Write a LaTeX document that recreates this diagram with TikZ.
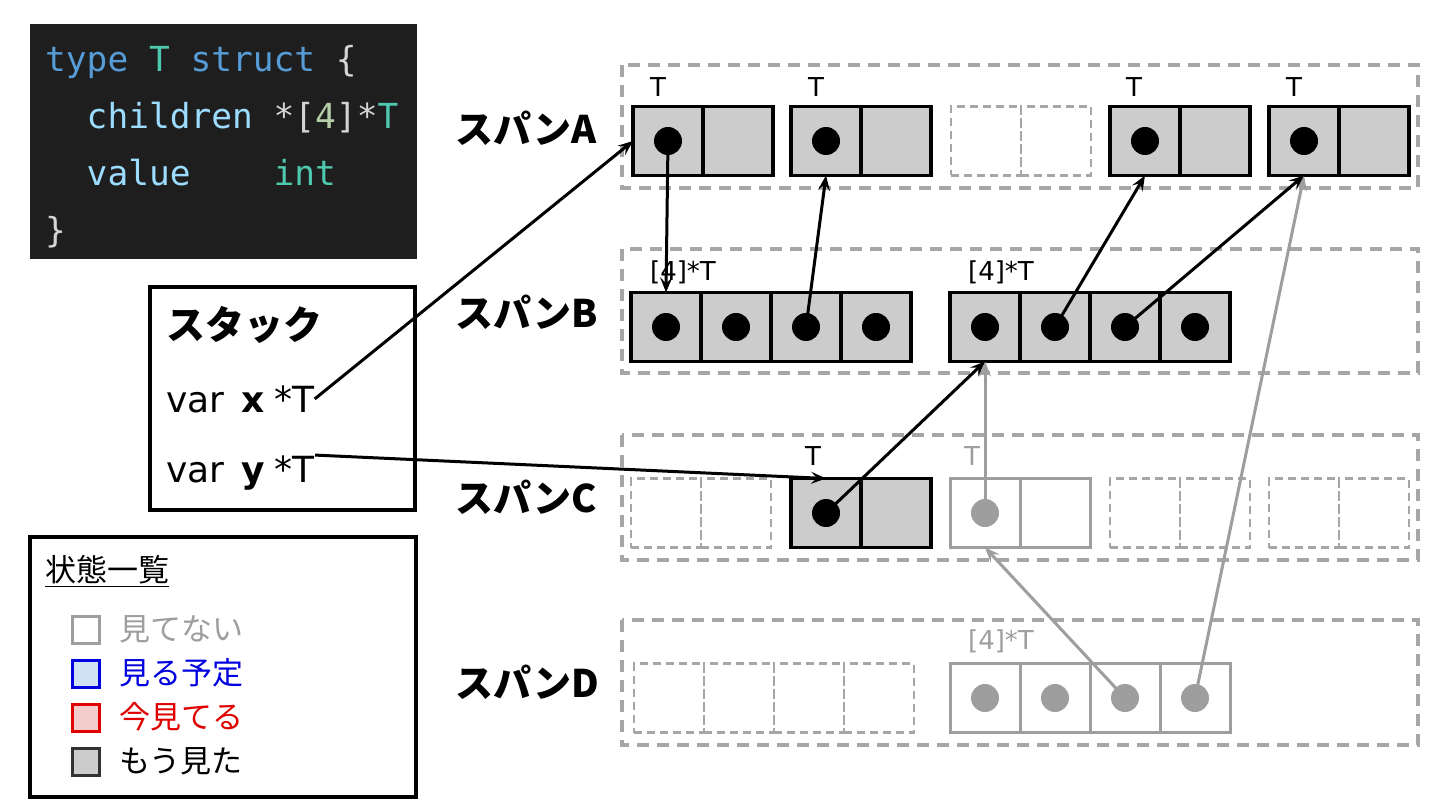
\documentclass[tikz,border=0pt]{standalone}
\usepackage{fontspec}
\setmainfont{DejaVu Sans}
\newfontfamily\jp{Noto Sans CJK JP}
\newfontfamily\mono{DejaVu Sans Mono}
\usetikzlibrary{arrows.meta}
\definecolor{codebg}{HTML}{1E1E1E}
\definecolor{ckw}{HTML}{569CD6}
\definecolor{cty}{HTML}{4EC9B0}
\definecolor{cid}{HTML}{9CDCFE}
\definecolor{cpl}{HTML}{D4D4D4}
\definecolor{cnum}{HTML}{B5CEA8}
\definecolor{cellgray}{HTML}{CCCCCC}
\definecolor{spangray}{HTML}{A6A6A6}
\definecolor{midgray}{HTML}{9E9E9E}
\definecolor{lgblue}{HTML}{CFE2F3}
\definecolor{lgpink}{HTML}{F4CCCC}
\definecolor{tblue}{HTML}{0000E0}
\definecolor{tred}{HTML}{E00000}
\begin{document}
\begin{tikzpicture}[x=1pt,y=-1pt,
  cell/.style={minimum width=70pt,minimum height=69pt,inner sep=0pt,outer sep=0pt},
  cellfull/.style={cell,draw=black,line width=3.2pt,fill=cellgray},
  cellgr/.style={cell,draw=midgray,line width=3pt,fill=white},
  cellnone/.style={cell,draw=spangray,line width=2.8pt,dash pattern=on 8pt off 5pt},
  spanbox/.style={draw=spangray,line width=3.8pt,dash pattern=on 12pt off 8pt},
  dotb/.style={circle,fill=black,minimum size=28pt,inner sep=0pt},
  dotg/.style={circle,fill=midgray,minimum size=28pt,inner sep=0pt},
  ptr/.style={-{Stealth[length=15pt,width=12pt,inset=6pt]},line width=3pt,draw=black},
  ptrg/.style={ptr,draw=midgray},
  spanlbl/.style={font=\jp\bfseries\fontsize{38}{40}\selectfont,anchor=west,inner sep=0pt},
  tlbl/.style={font=\fontsize{26}{28}\selectfont,inner sep=0pt},
  codeln/.style={font=\mono\fontsize{34.5}{36}\selectfont,anchor=base west,inner sep=0pt},
  stk/.style={font=\fontsize{36}{38}\selectfont,anchor=base west,inner sep=0pt},
  lgsq/.style={minimum size=27pt,inner sep=0pt,line width=2.4pt},
  lgtx/.style={font=\jp\fontsize{31}{33}\selectfont,anchor=west,inner sep=0pt}
]
\useasboundingbox (0,0) rectangle (1440,810);
\fill[white] (0,0) rectangle (1440,810);

% code block
\fill[codebg] (30,24) rectangle (417,259);
\node[codeln] (c1) at (45,72) {\textcolor{ckw}{type} \textcolor{cty}{T} \textcolor{ckw}{struct} \textcolor{cpl}{\{}};
\node[codeln] (c2) at (45,129) {\ \ \textcolor{cid}{children} \textcolor{cpl}{*[}\textcolor{cnum}{4}\textcolor{cpl}{]*}\textcolor{cty}{T}};
\node[codeln] (c3) at (45,186) {\ \ \textcolor{cid}{value}\ \ \ \ \textcolor{cty}{int}};
\node[codeln] (c4) at (45,243) {\textcolor{cpl}{\}}};

% stack
\draw[line width=3.2pt] (150,287) rectangle (415,510);
\node[font=\jp\bfseries\fontsize{39}{41}\selectfont,anchor=west,inner sep=0pt] (stk) at (166,325) {スタック};
\node[stk] (vx) at (166,412) {var\hspace{17pt}\textbf{x}\hspace{10pt}*T};
\node[stk] (vy) at (166,482) {var\hspace{17pt}\textbf{y}\hspace{10pt}*T};

% legend
\draw[line width=3.2pt] (30,537) rectangle (416,797);
\node[font=\jp\fontsize{31}{33}\selectfont,anchor=west,inner sep=0pt] (lgt) at (45,571) {\underline{状態一覧}};
\node[lgsq,draw=midgray,fill=white] (q1) at (86,630) {};
\node[lgtx,text=midgray] (t1) at (119,629) {見てない};
\node[lgsq,draw=tblue,fill=lgblue] (q2) at (86,674) {};
\node[lgtx,text=tblue] (t2) at (119,673) {見る予定};
\node[lgsq,draw=tred,fill=lgpink] (q3) at (86,718) {};
\node[lgtx,text=tred] (t3) at (119,717) {今見てる};
\node[lgsq,draw=black!80,fill=cellgray] (q4) at (86,762) {};
\node[lgtx,text=black] (t4) at (119,761) {もう見た};

% span labels
\node[spanlbl] (LA) at (455,128) {スパンA};
\node[spanlbl] (LB) at (455,312) {スパンB};
\node[spanlbl] (LC) at (455,497) {スパンC};
\node[spanlbl] (LD) at (455,682) {スパンD};

% span outer boxes
\draw[spanbox] (622,65) rectangle (1418,188);
\draw[spanbox] (622,249) rectangle (1418,373);
\draw[spanbox] (622,435) rectangle (1418,560);
\draw[spanbox] (622,620) rectangle (1418,745);

% span A
\node[cellfull] (A1a) at (668,141) {};
\node[cellfull] (A1b) at (738,141) {};
\node[cellfull] (A2a) at (826,141) {};
\node[cellfull] (A2b) at (896,141) {};
\node[cellnone] (A3a) at (986,141) {};
\node[cellnone] (A3b) at (1056,141) {};
\node[cellfull] (A4a) at (1145,141) {};
\node[cellfull] (A4b) at (1215,141) {};
\node[cellfull] (A5a) at (1304,141) {};
\node[cellfull] (A5b) at (1374,141) {};
\node[tlbl] (tA1) at (658,87) {T};
\node[tlbl] (tA2) at (816,87) {T};
\node[tlbl] (tA4) at (1134,87) {T};
\node[tlbl] (tA5) at (1294,87) {T};

% span B
\node[cellfull] (B1a) at (666,327) {};
\node[cellfull] (B1b) at (736,327) {};
\node[cellfull] (B1c) at (806,327) {};
\node[cellfull] (B1d) at (876,327) {};
\node[cellfull] (B2a) at (985,327) {};
\node[cellfull] (B2b) at (1055,327) {};
\node[cellfull] (B2c) at (1125,327) {};
\node[cellfull] (B2d) at (1195,327) {};
\node[tlbl] (tB1) at (683,272) {[4]*T};
\node[tlbl] (tB2) at (1001,272) {[4]*T};

% span C
\node[cellnone] (C1a) at (666,513) {};
\node[cellnone] (C1b) at (736,513) {};
\node[cellfull] (C2a) at (826,513) {};
\node[cellfull] (C2b) at (896,513) {};
\node[cellgr] (C3a) at (985,513) {};
\node[cellgr] (C3b) at (1055,513) {};
\node[cellnone] (C4a) at (1145,513) {};
\node[cellnone] (C4b) at (1215,513) {};
\node[cellnone] (C5a) at (1304,513) {};
\node[cellnone] (C5b) at (1374,513) {};
\node[tlbl] (tC2) at (813,456) {T};
\node[tlbl,text=midgray] (tC3) at (972,456) {T};

% span D
\node[cellnone] (D1a) at (669,698) {};
\node[cellnone] (D1b) at (739,698) {};
\node[cellnone] (D1c) at (809,698) {};
\node[cellnone] (D1d) at (879,698) {};
\node[cellgr] (D2a) at (985,698) {};
\node[cellgr] (D2b) at (1055,698) {};
\node[cellgr] (D2c) at (1125,698) {};
\node[cellgr] (D2d) at (1195,698) {};
\node[tlbl,text=midgray] (tD2) at (1001,641) {[4]*T};

% dots
\node[dotb] (dA1) at (A1a) {};
\node[dotb] (dA2) at (A2a) {};
\node[dotb] (dA4) at (A4a) {};
\node[dotb] (dA5) at (A5a) {};
\node[dotb] (dB1a) at (B1a) {};
\node[dotb] (dB1b) at (B1b) {};
\node[dotb] (dB1c) at (B1c) {};
\node[dotb] (dB1d) at (B1d) {};
\node[dotb] (dB2a) at (B2a) {};
\node[dotb] (dB2b) at (B2b) {};
\node[dotb] (dB2c) at (B2c) {};
\node[dotb] (dB2d) at (B2d) {};
\node[dotb] (dC2) at (C2a) {};
\node[dotg] (dC3) at (C3a) {};
\node[dotg] (dD2a) at (D2a) {};
\node[dotg] (dD2b) at (D2b) {};
\node[dotg] (dD2c) at (D2c) {};
\node[dotg] (dD2d) at (D2d) {};

% pointers
\draw[ptrg] (dD2d.center) -- (A5a.south);
\draw[ptrg] (dD2c.center) -- (C3a.south);
\draw[ptrg] (dC3.center) -- (B2a.south);
\draw[ptr] (vx.east) -- (A1a.west);
\draw[ptr] (vy.north east) -- (C2a.north);
\draw[ptr] (dA1.center) -- (B1a.north);
\draw[ptr] (dB1c.center) -- (A2a.south);
\draw[ptr] (dB2b.center) -- (A4a.south);
\draw[ptr] (dB2c.center) -- (A5a.south);
\draw[ptr] (dC2.center) -- (B2a.south);
\end{tikzpicture}
\end{document}
